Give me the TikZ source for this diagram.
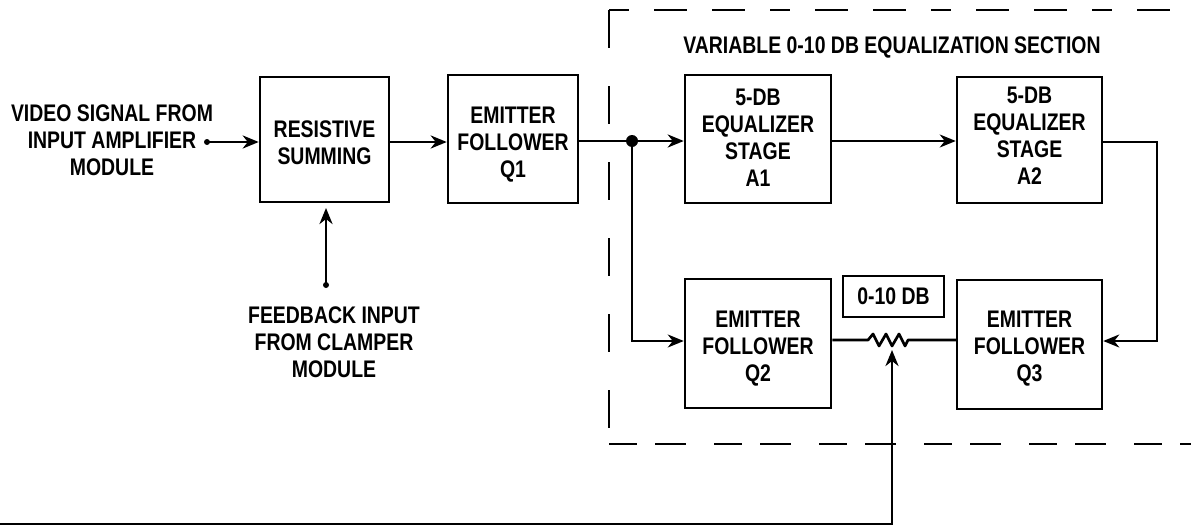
\documentclass[tikz,border=0pt]{standalone}
\usepackage{fontspec}
\setmainfont[FakeStretch=0.81]{Liberation Sans}
\usetikzlibrary{arrows.meta}
\tikzset{
  blockbox/.style={draw, line width=2.5pt, align=center, inner sep=0pt, font=\labelfont},
  plainlabel/.style={align=center, inner sep=0pt, font=\labelfont},
  secline/.style={line width=2.3pt},
  wire/.style={line width=2.7pt},
  thinwire/.style={line width=2pt},
  tip/.style={-{Stealth[length=16pt,width=13pt,inset=5pt]}}
}
\newcommand{\labelfont}{\bfseries\fontsize{24}{27}\selectfont}
\begin{document}
\begin{tikzpicture}[x=1pt,y=-1pt]
\useasboundingbox (0,0) rectangle (1191,527);
% section outline
\draw[secline, dash pattern=on 20pt off 25pt on 33pt off 25pt on 33pt off 25pt] (609,10) -- (1191,10);
\draw[secline, dash pattern=on 38pt off 38pt] (609,10) -- (609,444);
\draw[secline, dash pattern=on 28pt off 18pt on 31pt off 28pt] (609,444) -- (1191,444);
% blocks
\node[blockbox, minimum width=129pt, minimum height=125pt, label={[plainlabel,yshift=-3pt]center:{RESISTIVE\\SUMMING}}] (resistive) at (324.5,139.5) {};
\node[blockbox, minimum width=130pt, minimum height=128pt, label={[plainlabel,yshift=-6pt]center:{EMITTER\\FOLLOWER\\Q1}}] (followerQa) at (513,139) {};
\node[blockbox, minimum width=146pt, minimum height=128pt, label={[plainlabel,yshift=1pt]center:{5-DB\\EQUALIZER\\STAGE\\A1}}] (stageAa) at (758,139) {};
\node[blockbox, minimum width=145pt, minimum height=126pt, label={[plainlabel,yshift=4pt]center:{5-DB\\EQUALIZER\\STAGE\\A2}}] (stageAb) at (1029.5,140) {};
\node[blockbox, minimum width=146pt, minimum height=129pt, label={[plainlabel,yshift=-5pt]center:{EMITTER\\FOLLOWER\\Q2}}] (followerQb) at (758,343.5) {};
\node[blockbox, minimum width=145pt, minimum height=129pt, label={[plainlabel,yshift=-4pt]center:{EMITTER\\FOLLOWER\\Q3}}] (followerQc) at (1029.5,344.5) {};
\node[blockbox, line width=2.2pt, minimum width=101pt, minimum height=41pt] (range) at (893.5,296.5) {0-10 DB};
% labels
\node[plainlabel] (videolabel) at (112,140) {VIDEO SIGNAL FROM\\INPUT AMPLIFIER\\MODULE};
\node[plainlabel] (feedbacklabel) at (334,342) {FEEDBACK INPUT\\FROM CLAMPER\\MODULE};
\node[plainlabel] (sectionlabel) at (892,47) {VARIABLE 0-10 DB EQUALIZATION SECTION};
% connectors
\coordinate (videoin) at (207,142);
\coordinate (feedbackin) at (326,285);
\coordinate (feedbacktip) at (326,208);
\coordinate (junction) at (632,141);
\coordinate (rightturn) at (1157,142);
\coordinate (lowerline) at (1157,341);
\coordinate (potleft) at (868,340);
\coordinate (potwiper) at (892,350);
\coordinate (controlin) at (0,524);
\fill (videoin) circle (3pt);
\fill (feedbackin) circle (3pt);
\fill (junction) circle (6pt);
\draw[wire, tip] (videoin) -- (videoin -| resistive.west);
\draw[wire, tip] (feedbackin) -- (feedbacktip);
\draw[wire, tip] (resistive.east |- videoin) -- (videoin -| followerQa.west);
\draw[wire] (followerQa.east |- junction) -- (junction);
\draw[wire, tip] (junction) -- (junction -| stageAa.west);
\draw[thinwire, tip] (stageAa.east |- junction) -- (junction -| stageAb.west);
\draw[thinwire, tip] (stageAb.east |- rightturn) -- (rightturn) -- (lowerline) -- (lowerline -| followerQc.east);
\draw[thinwire, tip] (junction) -- (junction |- lowerline) -- (lowerline -| followerQb.west);
\draw[wire, line join=round] (followerQb.east |- potleft) -- (potleft) -- ++(5,-6) -- ++(6,12) -- ++(7,-12) -- ++(6,12) -- ++(7,-12) -- ++(6,12) -- ++(3,-6) -- (followerQc.west |- potleft);
\draw[wire, tip] (controlin) -- (potwiper |- controlin) -- (potwiper);
\end{tikzpicture}
\end{document}
